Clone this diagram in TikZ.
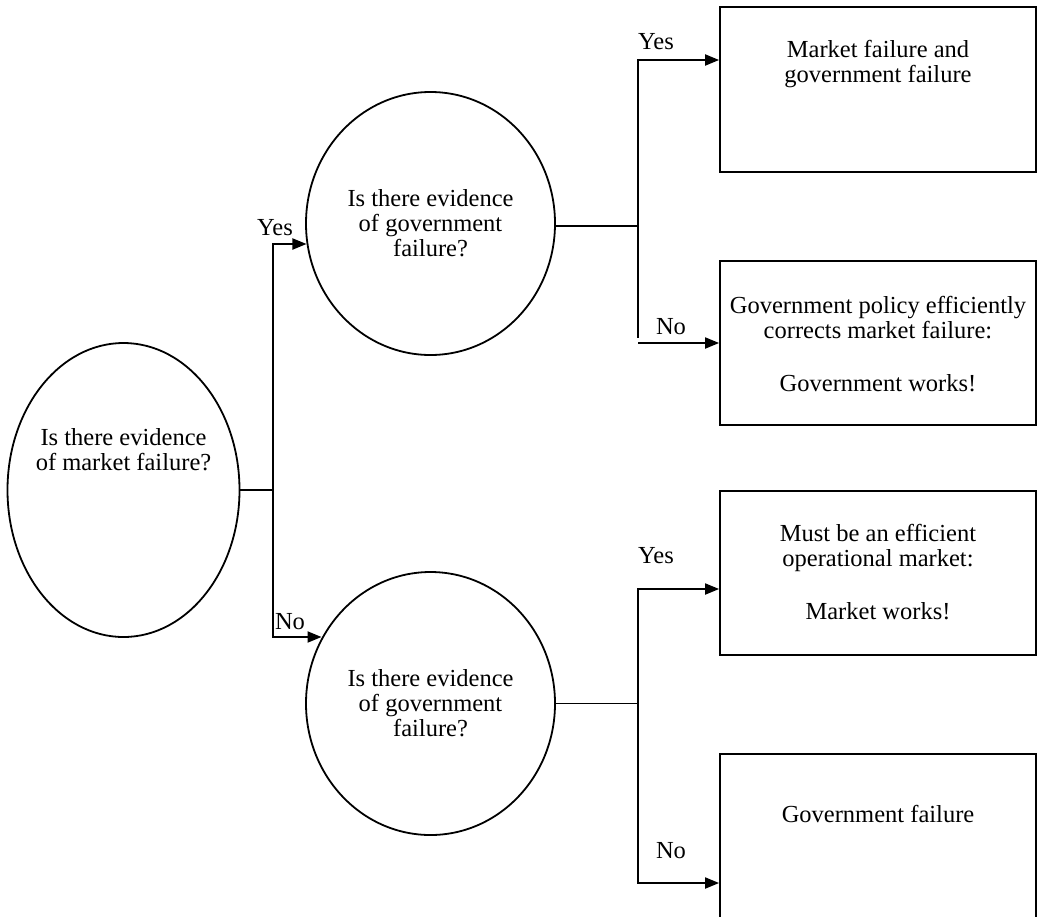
\documentclass[tikz,border=0pt]{standalone}
\usepackage{fontspec}
\setmainfont{Liberation Serif}
\usetikzlibrary{shapes,arrows.meta,positioning}
\begin{document}
\begin{tikzpicture}[x=1pt,y=-1pt,
  every node/.style={font=\fontsize{24.5}{25}\selectfont},
  question/.style={draw,ellipse,line width=1.8pt,inner sep=0pt,align=center},
  outcome/.style={draw,rectangle,line width=1.8pt,minimum width=316pt,minimum height=164pt,inner sep=0pt},
  outtext/.style={align=center,inner sep=0pt},
  answer/.style={inner sep=0pt},
  link/.style={line width=1.6pt},
  go/.style={line width=1.9pt,-{Triangle[length=14pt,width=11pt]}}]
\useasboundingbox (0,0) rectangle (1040,916);
\node[question,minimum width=232pt,minimum height=294pt] (MKT) at (123.5,490) {};
\node[outtext] (MKTQ) at ([yshift=40pt]MKT.center) {Is there evidence\\of market failure?};
\node[question,minimum width=249pt,minimum height=263pt] (GOVUP) at (430.5,223.5) {Is there evidence\\of government\\failure?};
\node[question,minimum width=249pt,minimum height=263pt] (GOVDN) at (430.5,703.5) {Is there evidence\\of government\\failure?};
\node[outcome,minimum height=165pt] (BOTH) at (878,89.5) {};
\node[outcome] (GOVOK) at (878,343) {};
\node[outcome] (MKTOK) at (878,573) {};
\node[outcome] (GOVFAIL) at (878,836) {};
\node[outtext,below=34pt of BOTH.north] (BOTHT) {Market failure and\\government failure};
\node[outtext,below=36pt of GOVOK.north] (GOVOKT) {Government policy efficiently\\corrects market failure:\\[28pt]Government works!};
\node[outtext,below=34pt of MKTOK.north] (MKTOKT) {Must be an efficient\\operational market:\\[28pt]Market works!};
\node[outtext,below=52pt of GOVFAIL.north] (GOVFAILT) {Government failure};
\coordinate (J1) at (273,490);
\coordinate (J2) at (638,226);
\coordinate (J2N) at (638,338);
\coordinate (J2NA) at (638,343);
\coordinate (J3) at (638,703.5);
\draw[link] (MKT.east) -- (J1);
\draw[go] (J1) |- (GOVUP.189 |- 0,244);
\draw[go] (J1) |- (GOVDN.149 |- 0,637);
\draw[link] (GOVUP.east |- J2) -- (J2);
\draw[go] (J2) |- (BOTH.west |- 0,60);
\draw[go,-] (J2) -- (J2N);
\draw[go] (J2NA) -- (GOVOK.west);
\draw[link] (GOVDN.east) -- (J3);
\draw[go] (J3) |- (MKTOK.west |- 0,589);
\draw[go] (J3) |- (GOVFAIL.west |- 0,883);
\node[answer] (YES1) at (275,228) {Yes};
\node[answer] (NO1) at (290,622) {No};
\node[answer] (YES2) at (656,42) {Yes};
\node[answer] (NO2) at (671,327) {No};
\node[answer] (YES3) at (656,556) {Yes};
\node[answer] (NO3) at (671,851) {No};
\end{tikzpicture}
\end{document}
